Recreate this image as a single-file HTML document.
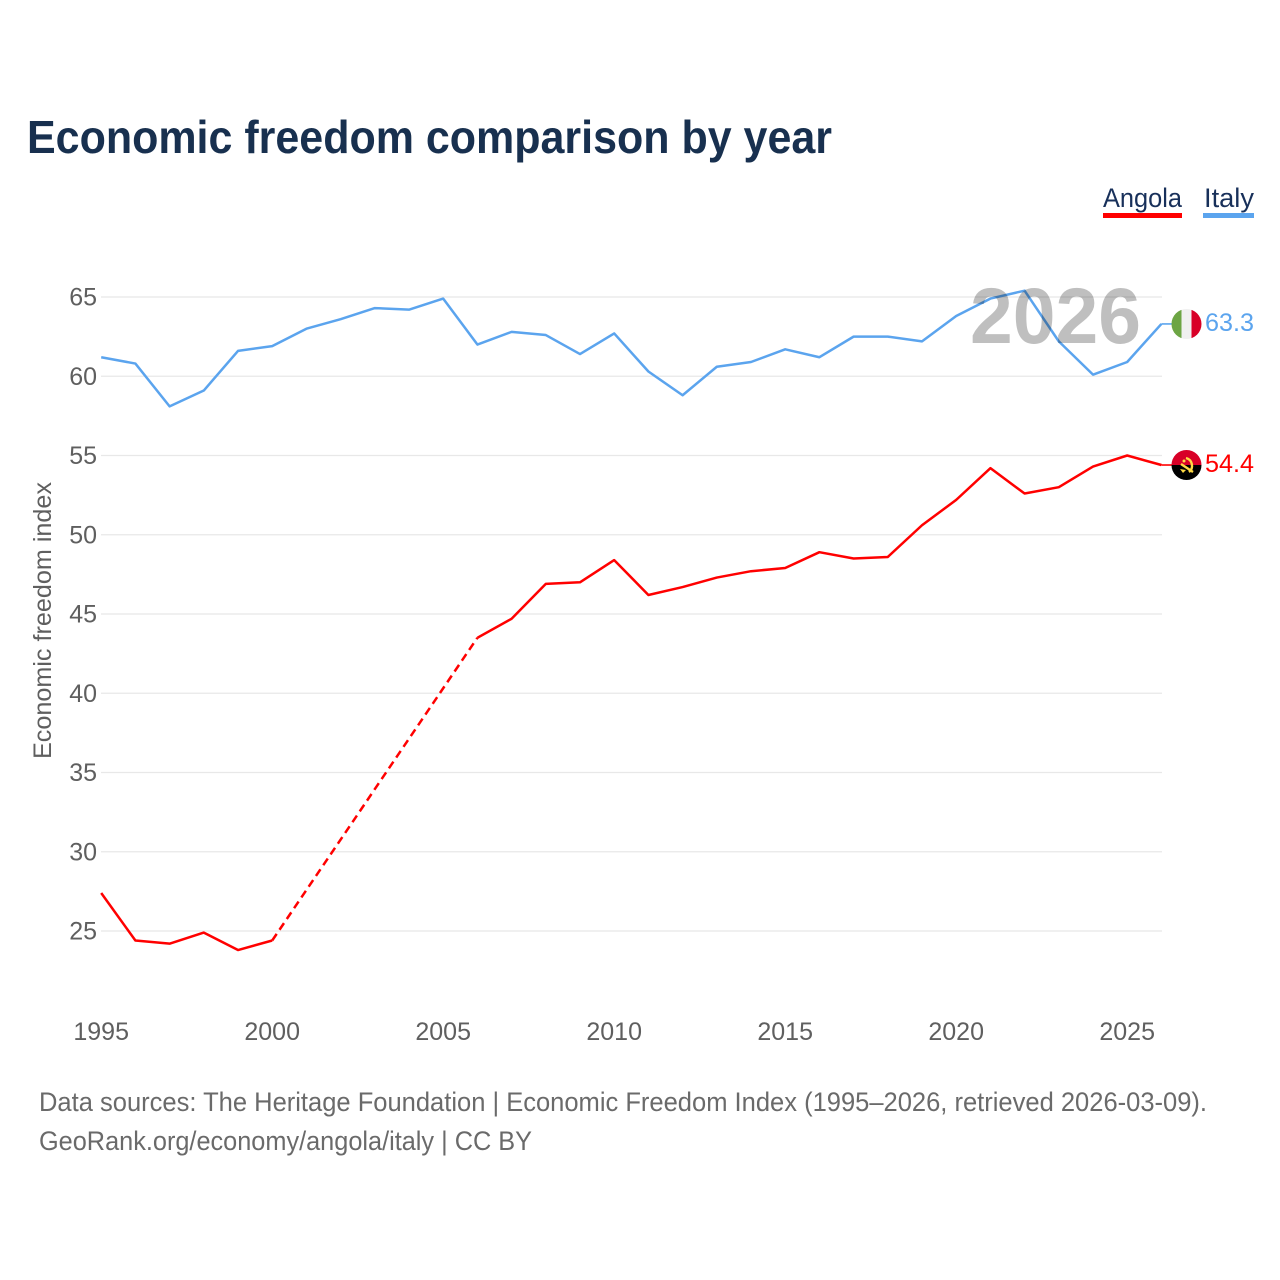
<!DOCTYPE html>
<html lang="en">
<head>
<meta charset="utf-8">
<title>Economic freedom comparison by year</title>
<style>
html,body{margin:0;padding:0;background:#fff;}
svg{display:block;font-family:"Liberation Sans",Arial,sans-serif;}
</style>
</head>
<body>
<svg id="chart" xmlns="http://www.w3.org/2000/svg" width="1280" height="1280" viewBox="0 0 1280 1280">
  <defs>
    <clipPath id="flag-clip-italy"><circle cx="1186.5" cy="324" r="15"/></clipPath>
    <clipPath id="flag-clip-angola"><circle cx="1186.5" cy="465" r="15"/></clipPath>
  </defs>
  <rect width="1280" height="1280" fill="#fff"/>
  <text x="27" y="153" font-size="46" font-weight="700" fill="#18304f" textLength="805" lengthAdjust="spacingAndGlyphs">Economic freedom comparison by year</text>

  <g>
    <g>
      <text x="1103" y="207" font-size="27" fill="#18305a" textLength="79" lengthAdjust="spacingAndGlyphs">Angola</text>
      <rect x="1103" y="213" width="79" height="5" fill="#ff0000"/>
    </g>
    <g>
      <text x="1204" y="207" font-size="27" fill="#18305a" textLength="50" lengthAdjust="spacingAndGlyphs">Italy</text>
      <rect x="1203" y="213" width="51" height="5" fill="#5ba4ee"/>
    </g>
  </g>

  <g id="grid"></g>
  <g id="y-ticks"></g>
  <g id="x-ticks"></g>
  <text transform="translate(51 759) rotate(-90)" font-size="25" fill="#5f5f5f" textLength="277" lengthAdjust="spacingAndGlyphs">Economic freedom index</text>
  <g id="series"></g>

  <text x="970" y="343" font-size="79" font-weight="700" fill="#000" fill-opacity="0.25" textLength="171" lengthAdjust="spacingAndGlyphs">2026</text>

  <g clip-path="url(#flag-clip-italy)">
    <rect x="1171.5" y="309" width="10" height="30" fill="#6da544"/>
    <rect x="1181.5" y="309" width="10" height="30" fill="#f0f0f0"/>
    <rect x="1191.5" y="309" width="10" height="30" fill="#d80027"/>
  </g>
  <g clip-path="url(#flag-clip-angola)">
    <rect x="1171.5" y="450" width="30" height="15" fill="#d80027"/>
    <rect x="1171.5" y="465" width="30" height="15" fill="#000"/>
    <path d="M1186 458 A8 8 0 0 1 1189 472" fill="none" stroke="#ffda44" stroke-width="2.4"/>
    <path d="M1181 464 L1193 472" fill="none" stroke="#ffda44" stroke-width="2.4"/>
    <path d="M1180 469 L1186 470 L1183 473 Z" fill="#ffda44"/>
    <circle cx="1184" cy="461" r="1.5" fill="#ffda44"/>
  </g>

  <text x="1205" y="331" font-size="25" fill="#5ba4ee" textLength="49" lengthAdjust="spacingAndGlyphs">63.3</text>
  <text x="1205" y="472" font-size="25" fill="#ff0000" textLength="49" lengthAdjust="spacingAndGlyphs">54.4</text>

  <text x="39" y="1111" font-size="27" fill="#6a6a6a" textLength="1168" lengthAdjust="spacingAndGlyphs">Data sources: The Heritage Foundation | Economic Freedom Index (1995–2026, retrieved 2026-03-09).</text>
  <text x="39" y="1150" font-size="27" fill="#6a6a6a" textLength="493" lengthAdjust="spacingAndGlyphs">GeoRank.org/economy/angola/italy | CC BY</text>
</svg>
<script>
const years = [1995,1996,1997,1998,1999,2000,2001,2002,2003,2004,2005,2006,2007,2008,2009,2010,2011,2012,2013,2014,2015,2016,2017,2018,2019,2020,2021,2022,2023,2024,2025,2026];
const italyValues = [61.2,60.8,58.1,59.1,61.6,61.9,63.0,63.6,64.3,64.2,64.9,62.0,62.8,62.6,61.4,62.7,60.3,58.8,60.6,60.9,61.7,61.2,62.5,62.5,62.2,63.8,64.9,65.4,62.2,60.1,60.9,63.3];
const angolaValues = [27.4,24.4,24.2,24.9,23.8,24.4,null,null,null,null,null,43.5,44.7,46.9,47.0,48.4,46.2,46.7,47.3,47.7,47.9,48.9,48.5,48.6,50.6,52.2,54.2,52.6,53.0,54.3,55.0,54.4];
const yTickValues = [25,30,35,40,45,50,55,60,65];
const xTickValues = [1995,2000,2005,2010,2015,2020,2025];

const NS = 'http://www.w3.org/2000/svg';
const xScale = function (year) { return 101.2 + (year - 1995) * 34.2; };
const yScale = function (value) { return 931 - (value - 25) * 15.85; };

const make = function (tag, attrs, parent) {
  const el = document.createElementNS(NS, tag);
  Object.keys(attrs).forEach(function (k) { el.setAttribute(k, attrs[k]); });
  parent.appendChild(el);
  return el;
};

const gridGroup = document.getElementById('grid');
const yGroup = document.getElementById('y-ticks');
yTickValues.forEach(function (v) {
  const line = make('line', {x1: 101, x2: 1162, y1: yScale(v), y2: yScale(v), stroke: '#e8e8e8', 'stroke-width': 1.2}, gridGroup);
  
  
  const label = make('text', {x: 97, y: yScale(v) + 8.5, 'text-anchor': 'end', 'font-size': 25, fill: '#5f5f5f'}, yGroup);
  
  
  label.textContent = v;
});

const xGroup = document.getElementById('x-ticks');
xTickValues.forEach(function (v) {
  const label = make('text', {x: xScale(v), y: 1040, 'text-anchor': 'middle', 'font-size': 25, fill: '#5f5f5f'}, xGroup);
  
  
  label.textContent = v;
});

const seriesGroup = document.getElementById('series');
function drawSeries(values, color, seriesName) {
  let solid = '';
  let dashed = '';
  let prev = null;
  values.forEach(function (v, i) {
    if (v === null) { return; }
    const px = xScale(years[i]).toFixed(2) + ' ' + yScale(v).toFixed(2);
    if (prev === null) {
      solid += 'M' + px;
    } else if (prev === i - 1) {
      solid += 'L' + px;
    } else {
      dashed += 'M' + xScale(years[prev]).toFixed(2) + ' ' + yScale(values[prev]).toFixed(2) + 'L' + px;
      solid += 'M' + px;
    }
    prev = i;
  });
  const common = {fill: 'none', stroke: color, 'stroke-width': 2.5, 'stroke-linejoin': 'round'};
  const solidPath = make('path', Object.assign({d: solid}, common), seriesGroup);
  
  
  if (dashed) {
    const dashPath = make('path', Object.assign({d: dashed, 'stroke-dasharray': '8 5'}, common), seriesGroup);
    
    
  }
  const lastIndex = values.length - 1;
  const connector = make('line', {x1: xScale(years[lastIndex]), x2: 1172, y1: yScale(values[lastIndex]), y2: yScale(values[lastIndex]), stroke: color, 'stroke-width': 1.6}, seriesGroup);
  
  
}
drawSeries(angolaValues, '#ff0000', 'angola');
drawSeries(italyValues, '#5ba4ee', 'italy');
</script>
</body>
</html>
